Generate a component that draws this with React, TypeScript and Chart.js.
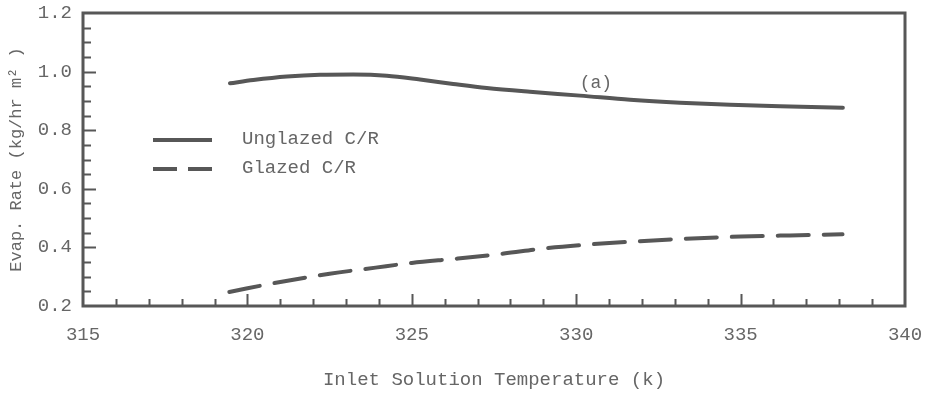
import React, { useEffect, useRef } from "react";
import { Chart, registerables } from "chart.js";

Chart.register(...registerables);

// ---- data ----
const unglazedT = [319.47, 320.18, 321.2, 322.21, 323.22, 324.24, 325.25, 326.26, 327.28, 328.59, 330.12, 331.64, 333.16, 334.68, 336.2, 338.11];
const unglazedRate = [0.96, 0.971, 0.983, 0.989, 0.99, 0.986, 0.973, 0.958, 0.944, 0.931, 0.918, 0.904, 0.894, 0.887, 0.882, 0.877];

const glazedT = [319.45, 321.0, 322.5, 323.9, 325.0, 326.4, 327.8, 329.0, 330.4, 331.6, 333.0, 335.0, 336.5, 338.1];
const glazedRate = [0.248, 0.282, 0.31, 0.331, 0.347, 0.362, 0.379, 0.396, 0.41, 0.419, 0.428, 0.437, 0.441, 0.445];

const seriesLabels = ["Unglazed C/R", "Glazed C/R"];
const xTicks = [315, 320, 325, 330, 335, 340];
const yTicks = [0.2, 0.4, 0.6, 0.8, 1.0, 1.2];
const xMinorStep = 1;
const yMinorStep = 0.05;
const annotationText = "(a)";
const annotationAt = { x: 330.6, y: 0.96 };
const xTitle = "Inlet Solution Temperature (k)";
const yTitle = "Evap. Rate (kg/hr m\u00B2 )";

const FONT = "'Liberation Mono', 'DejaVu Sans Mono', monospace";
const INK = "#575757";
const TEXT = "#666666";

const zeroPad = (scale: any) => {
  scale.paddingTop = 0;
  scale.paddingBottom = 0;
  scale.paddingLeft = 0;
  scale.paddingRight = 0;
};

const decorPlugin = {
  id: "decor",
  afterDatasetsDraw(chart: any) {
    const { ctx, chartArea, scales } = chart;
    const { left, right, top, bottom } = chartArea;
    const x = scales.x;
    const y = scales.y;
    ctx.save();
    // frame
    ctx.strokeStyle = INK;
    ctx.lineWidth = 3;
    ctx.strokeRect(left, top, right - left, bottom - top);
    // inward ticks
    ctx.lineWidth = 2;
    ctx.beginPath();
    const xMin = xTicks[0];
    const xMax = xTicks[xTicks.length - 1];
    for (let v = xMin + xMinorStep; v < xMax - 1e-9; v += xMinorStep) {
      const major = xTicks.some((t) => Math.abs(t - v) < 1e-6);
      const px = Math.round(x.getPixelForValue(v)) + 0.5;
      ctx.moveTo(px, bottom);
      ctx.lineTo(px, bottom - (major ? 12 : 7));
    }
    const yMin = yTicks[0];
    const yMax = yTicks[yTicks.length - 1];
    for (let v = yMin + yMinorStep; v < yMax - 1e-9; v += yMinorStep) {
      const major = yTicks.some((t) => Math.abs(t - v) < 1e-6);
      const py = Math.round(y.getPixelForValue(v)) + 0.5;
      ctx.moveTo(left, py);
      ctx.lineTo(left + (major ? 13 : 8), py);
    }
    ctx.stroke();

    // legend (inside plot)
    const legendX0 = 153;
    const legendX1 = 212;
    const legendTextX = 242;
    const legendY0 = 140;
    const legendGap = 29;
    chart.data.datasets.forEach((ds: any, i: number) => {
      const ly = legendY0 + i * legendGap;
      ctx.beginPath();
      ctx.strokeStyle = ds.borderColor;
      ctx.lineWidth = 4;
      ctx.lineCap = "butt";
      ctx.setLineDash(ds.borderDash && ds.borderDash.length ? [24, 11] : []);
      ctx.moveTo(legendX0, ly);
      ctx.lineTo(legendX1, ly);
      ctx.stroke();
      ctx.setLineDash([]);
      ctx.fillStyle = TEXT;
      ctx.font = `19px ${FONT}`;
      ctx.textAlign = "left";
      ctx.textBaseline = "middle";
      ctx.fillText(ds.label, legendTextX, ly - 1);
    });

    // annotation
    ctx.fillStyle = TEXT;
    ctx.font = `18px ${FONT}`;
    ctx.textAlign = "center";
    ctx.textBaseline = "middle";
    ctx.fillText(annotationText, x.getPixelForValue(annotationAt.x), y.getPixelForValue(annotationAt.y));
    ctx.restore();
  },
};

export default function App() {
  const ref = useRef<HTMLCanvasElement | null>(null);

  useEffect(() => {
    document.body.style.margin = "0";
    const canvas = ref.current;
    if (!canvas) return;
    const chart = new Chart(canvas, {
      type: "line",
      data: {
        datasets: [
          {
            label: seriesLabels[0],
            data: unglazedT.map((t, i) => ({ x: t, y: unglazedRate[i] })),
            borderColor: INK,
            borderWidth: 4,
            borderCapStyle: "round",
            borderJoinStyle: "round",
            pointRadius: 0,
            tension: 0.4,
            cubicInterpolationMode: "monotone",
            fill: false,
          },
          {
            label: seriesLabels[1],
            data: glazedT.map((t, i) => ({ x: t, y: glazedRate[i] })),
            borderColor: INK,
            borderWidth: 4,
            borderDash: [31, 15],
            borderCapStyle: "round",
            pointRadius: 0,
            tension: 0.4,
            cubicInterpolationMode: "monotone",
            fill: false,
          },
        ],
      },
      options: {
        responsive: false,
        animation: false,
        devicePixelRatio: 1,
        layout: { padding: { top: 13, right: 26, left: 0, bottom: 0 } },
        plugins: {
          legend: { display: false },
          tooltip: { enabled: false },
          title: { display: false },
        },
        scales: {
          x: {
            type: "linear",
            min: xTicks[0],
            max: xTicks[xTicks.length - 1],
            afterBuildTicks: (scale: any) => {
              scale.ticks = xTicks.map((v) => ({ value: v }));
            },
            afterFit: (scale: any) => {
              scale.height = 87;
              zeroPad(scale);
            },
            grid: { display: false, drawTicks: false },
            border: { display: false },
            ticks: {
              color: TEXT,
              font: { family: FONT, size: 19 },
              padding: 18,
              maxRotation: 0,
              autoSkip: false,
              callback: (v: any) => String(v),
            },
            title: {
              display: true,
              text: xTitle,
              color: TEXT,
              font: { family: FONT, size: 19 },
              padding: { top: 0, bottom: 2 },
            },
          },
          y: {
            type: "linear",
            min: yTicks[0],
            max: yTicks[yTicks.length - 1],
            afterBuildTicks: (scale: any) => {
              scale.ticks = yTicks.map((v) => ({ value: v }));
            },
            afterFit: (scale: any) => {
              scale.width = 83;
              zeroPad(scale);
            },
            grid: { display: false, drawTicks: false },
            border: { display: false },
            ticks: {
              color: TEXT,
              font: { family: FONT, size: 19 },
              padding: 11,
              autoSkip: false,
              callback: (v: any) => Number(v).toFixed(1),
            },
            title: {
              display: true,
              text: yTitle,
              color: TEXT,
              font: { family: FONT, size: 17 },
              padding: { top: 6, bottom: 0 },
            },
          },
        },
      },
      plugins: [decorPlugin],
    } as any);
    return () => chart.destroy();
  }, []);

  return (
    <div style={{ width: 931, height: 393, background: "#fff" }}>
      <canvas ref={ref} width={931} height={393} style={{ display: "block" }} />
    </div>
  );
}
